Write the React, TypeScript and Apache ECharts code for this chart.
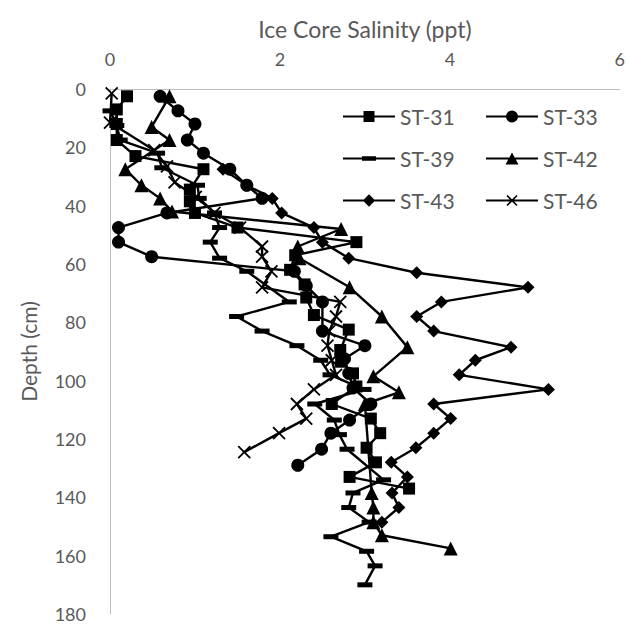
import React, { useEffect, useRef } from "react";
import * as echarts from "echarts";

// Depth (cm) and salinity (ppt) for each ice core station
const depthST31 = [2.5, 7, 12, 17.5, 23, 27.5, 34.5, 38.5, 42.5, 47.5, 52.5, 57, 62, 67, 71.5, 77.5, 82.5, 89.5, 93.5, 97.5, 102, 108, 113, 118, 123, 128, 133, 137];
const salST31 = [0.2, 0.08, 0.08, 0.08, 0.3, 1.1, 0.94, 0.94, 1.0, 1.5, 2.9, 2.18, 2.12, 2.29, 2.31, 2.4, 2.81, 2.71, 2.72, 2.86, 2.9, 2.61, 3.07, 3.18, 3.02, 3.13, 2.82, 3.52];

const depthST33 = [2.5, 7.5, 12, 17.5, 22, 27.5, 33, 37.5, 42.5, 47.5, 52.5, 57.5, 62.5, 67.5, 73, 83, 88, 92.5, 97.5, 102.5, 108, 113.5, 118, 123.5, 129];
const salST33 = [0.59, 0.8, 1.0, 0.91, 1.1, 1.41, 1.61, 1.79, 0.67, 0.1, 0.1, 0.49, 2.17, 2.31, 2.5, 2.5, 3.0, 2.76, 2.81, 2.86, 3.07, 2.82, 2.6, 2.49, 2.21];

const depthST39 = [7.5, 12.5, 17.5, 22, 27, 33, 37.5, 42.5, 47.5, 52.5, 58, 62.5, 73, 78, 83, 88, 93, 98, 103, 108, 113.5, 118.5, 123.5, 134, 138.5, 143.5, 148.5, 153.5, 158.5, 163.5, 170];
const salST39 = [0.0, 0.08, 0.12, 0.56, 0.61, 1.03, 1.05, 1.23, 1.29, 1.18, 1.29, 1.61, 2.11, 1.49, 1.79, 2.2, 2.48, 2.59, 2.99, 2.41, 2.64, 2.7, 2.79, 3.22, 2.86, 2.81, 3.05, 2.6, 3.02, 3.12, 3.0];

const depthST42 = [2.5, 13, 17.5, 27.5, 33, 37.5, 42, 48, 54, 58, 68, 78, 88.5, 98.5, 104, 108, 138.5, 143.5, 148.5, 153, 157.5];
const salST42 = [0.7, 0.49, 0.7, 0.18, 0.37, 0.59, 0.73, 2.72, 2.21, 2.23, 2.82, 3.2, 3.5, 3.1, 3.4, 3.0, 3.08, 3.1, 3.1, 3.2, 4.01];

const depthST43 = [27.5, 33, 37.5, 42.5, 47.5, 52.5, 58, 63, 68, 73, 78, 83, 88.5, 93, 98, 103, 108, 113, 118, 123, 128, 133, 138.5, 143.5, 148.5];
const salST43 = [1.33, 1.61, 1.91, 2.02, 2.4, 2.5, 2.81, 3.61, 4.92, 3.9, 3.61, 3.81, 4.72, 4.3, 4.11, 5.16, 3.81, 4.01, 3.81, 3.6, 3.31, 3.5, 3.32, 3.4, 3.2];

const depthST46 = [1.5, 11.5, 21, 26.5, 32, 37, 42.5, 47.5, 54, 57.5, 62.5, 68, 73, 78, 83, 88, 93, 98, 103, 108, 113, 118, 124.5];
const salST46 = [0.02, 0.0, 0.52, 0.67, 0.76, 1.01, 1.23, 1.53, 1.79, 1.79, 1.9, 1.79, 2.71, 2.66, 2.58, 2.56, 2.61, 2.66, 2.4, 2.2, 2.31, 1.99, 1.58];

const stationNames = ["ST-31", "ST-33", "ST-39", "ST-42", "ST-43", "ST-46"];

// Axis ticks
const salinityTicks = [0, 2, 4, 6];
const depthTicks = [0, 20, 40, 60, 80, 100, 120, 140, 160, 180];

const FONT = 'Lato, "Open Sans", sans-serif';
const TEXT_COLOR = "#595959";
const AXIS_COLOR = "#BFBFBF";

// Legend icons: a line with the station's marker in the middle (52 x 14 box)
const anchor = "M0,0Z M52,14Z ";
const lineBar = "M0,5.9H52V8.1H0Z ";
const legendIcons = [
  "path://" + anchor + lineBar + "M20.5,1.5H31.5V12.5H20.5Z",
  "path://" + anchor + lineBar + "M32,7A6,6,0,1,1,20,7A6,6,0,1,1,32,7Z",
  "path://" + anchor + lineBar + "M19,4.8H33V9.2H19Z",
  "path://" + anchor + lineBar + "M26,1L32.5,13H19.5Z",
  "path://" + anchor + lineBar + "M26,0.8L32.2,7L26,13.2L19.8,7Z",
  "path://" + anchor + lineBar +
    "M21.57,1.43L31.57,11.43L30.43,12.57L20.43,2.57Z M31.57,2.57L21.57,12.57L20.43,11.43L30.43,1.43Z",
];

const crossSymbol = "path://M0,0L10,10M10,0L0,10";

function buildSeries(name: string, depth: number[], sal: number[], symbol: string, size: number | number[], stroke = false) {
  return {
    name,
    type: "line",
    data: depth.map((d, i) => [sal[i], d]),
    symbol,
    symbolSize: size,
    showSymbol: true,
    lineStyle: { color: "#000", width: 2.4 },
    itemStyle: stroke
      ? { color: "#000", borderColor: "#000", borderWidth: 1.8 }
      : { color: "#000", borderWidth: 0 },
    emphasis: { disabled: true },
    silent: true,
  };
}

export default function App() {
  const ref = useRef<HTMLDivElement>(null);

  useEffect(() => {
    if (!ref.current) return;
    const chart = echarts.init(ref.current, undefined, { renderer: "svg" });

    const legendLeft = [343, 486];
    const legendTop = [106, 148, 190];

    const option = {
      animation: false,
      backgroundColor: "#ffffff",
      grid: { left: 110, top: 89, right: 6, bottom: 16 },
      xAxis: {
        type: "value",
        position: "top",
        min: salinityTicks[0],
        max: salinityTicks[salinityTicks.length - 1],
        interval: salinityTicks[1] - salinityTicks[0],
        name: "Ice Core Salinity (ppt)",
        nameLocation: "middle",
        nameGap: 49,
        nameTextStyle: { fontFamily: FONT, fontSize: 23, color: TEXT_COLOR },
        axisLine: { show: true, onZero: false, lineStyle: { color: AXIS_COLOR, width: 1 } },
        axisTick: { show: false },
        splitLine: { show: false },
        axisLabel: { fontFamily: FONT, fontSize: 18, color: TEXT_COLOR, margin: 21 },
      },
      yAxis: {
        type: "value",
        inverse: true,
        min: depthTicks[0],
        max: depthTicks[depthTicks.length - 1],
        interval: depthTicks[1] - depthTicks[0],
        name: "Depth (cm)",
        nameLocation: "middle",
        nameRotate: 90,
        nameGap: 71,
        nameTextStyle: { fontFamily: FONT, fontSize: 21, color: TEXT_COLOR },
        axisLine: { show: true, onZero: false, lineStyle: { color: AXIS_COLOR, width: 1 } },
        axisTick: { show: false },
        splitLine: { show: false },
        axisLabel: { fontFamily: FONT, fontSize: 18, color: TEXT_COLOR, margin: 24 },
      },
      legend: stationNames.map((n, i) => ({
        data: [{ name: n, icon: legendIcons[i] }],
        left: legendLeft[i % 2],
        top: legendTop[Math.floor(i / 2)],
        padding: 0,
        itemWidth: 52,
        itemHeight: 14,
        selectedMode: false,
        itemStyle: { borderWidth: 0 },
        textStyle: { fontFamily: FONT, fontSize: 21, color: TEXT_COLOR },
      })),
      series: [
        buildSeries("ST-31", depthST31, salST31, "rect", 12),
        buildSeries("ST-33", depthST33, salST33, "circle", 13),
        buildSeries("ST-39", depthST39, salST39, "rect", [15, 5]),
        buildSeries("ST-42", depthST42, salST42, "triangle", 14),
        buildSeries("ST-43", depthST43, salST43, "diamond", 13),
        buildSeries("ST-46", depthST46, salST46, crossSymbol, 12, true),
      ],
    };

    chart.setOption(option as any);
    return () => chart.dispose();
  }, []);

  return (
    <div
      ref={ref}
      style={{ position: "absolute", left: 0, top: 0, width: 628, height: 630 }}
    />
  );
}
